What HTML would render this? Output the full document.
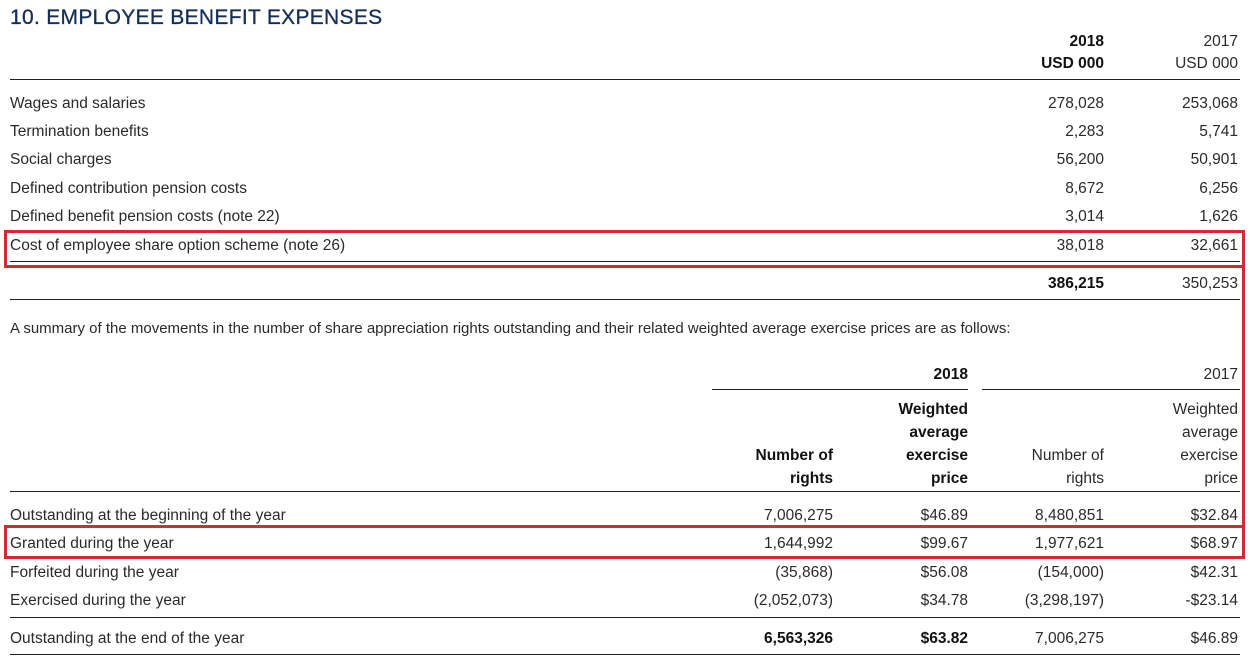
<!DOCTYPE html>
<html><head><meta charset="utf-8"><style>
body{margin:0;width:1250px;height:661px;background:#fff;position:relative;overflow:hidden;font-family:"Liberation Sans",sans-serif;color:#2a2a2a}
.t{position:absolute;font-size:15.5px;line-height:18px;white-space:nowrap}
.r{text-align:right}
.b{font-weight:bold;color:#111}
.ln{position:absolute;height:1px;background:#222}
.red{position:absolute;border:3px solid #d42a32;box-sizing:border-box}
</style></head><body>
<div class="t" style="left:10px;top:6px;font-size:21px;line-height:24px;color:#142e58;letter-spacing:0.3px;-webkit-text-stroke:0.3px #142e58">10. EMPLOYEE BENEFIT EXPENSES</div>
<div class="t r b" style="right:146px;top:33px">2018</div>
<div class="t r b" style="right:146px;top:55px">USD 000</div>
<div class="t r" style="right:12px;top:33px">2017</div>
<div class="t r" style="right:12px;top:55px">USD 000</div>
<div class="ln" style="left:10px;width:1230px;top:79px"></div>
<div class="ln" style="left:10px;width:1230px;top:261px"></div>
<div class="t r b" style="right:146px;top:275px">386,215</div>
<div class="t r" style="right:12px;top:275px">350,253</div>
<div class="ln" style="left:10px;width:1230px;top:299px"></div>
<div class="t" style="left:10px;top:320px;font-size:15px">A summary of the movements in the number of share appreciation rights outstanding and their related weighted average exercise prices are as follows:</div>
<div class="t r b" style="right:282px;top:366px">2018</div>
<div class="t r" style="right:12px;top:366px">2017</div>
<div class="ln" style="left:712px;width:256px;top:389px"></div>
<div class="ln" style="left:982px;width:258px;top:389px"></div>
<div class="t r b" style="right:282px;top:398px;line-height:23px">Weighted<br>average<br>exercise<br>price</div>
<div class="t r" style="right:12px;top:398px;line-height:23px">Weighted<br>average<br>exercise<br>price</div>
<div class="t r b" style="right:417px;top:444px;line-height:23px">Number of<br>rights</div>
<div class="t r" style="right:146px;top:444px;line-height:23px">Number of<br>rights</div>
<div class="ln" style="left:10px;width:1230px;top:491px"></div>
<div class="ln" style="left:10px;width:1230px;top:617px"></div>
<div class="t" style="left:10px;top:630px">Outstanding at the end of the year</div>
<div class="t r b" style="right:417px;top:630px">6,563,326</div>
<div class="t r b" style="right:282px;top:630px">$63.82</div>
<div class="t r" style="right:146px;top:630px">7,006,275</div>
<div class="t r" style="right:12px;top:630px">$46.89</div>
<div class="ln" style="left:10px;width:1230px;top:654px"></div>
<div class="red" style="left:4px;top:230px;width:1241px;height:38px"></div>
<div class="red" style="left:4px;top:525px;width:1241px;height:34px"></div>
<div style="position:absolute;left:1242px;top:266px;width:3px;height:262px;background:#d42a32"></div>
<script>
const labels1=["Wages and salaries","Termination benefits","Social charges","Defined contribution pension costs","Defined benefit pension costs (note 22)","Cost of employee share option scheme (note 26)"];
const v2018=["278,028","2,283","56,200","8,672","3,014","38,018"];
const v2017=["253,068","5,741","50,901","6,256","1,626","32,661"];
const labels2=["Outstanding at the beginning of the year","Granted during the year","Forfeited during the year","Exercised during the year"];
const rights18=["7,006,275","1,644,992","(35,868)","(2,052,073)"];
const price18=["$46.89","$99.67","$56.08","$34.78"];
const rights17=["8,480,851","1,977,621","(154,000)","(3,298,197)"];
const price17=["$32.84","$68.97","$42.31","-$23.14"];
function cell(p,txt,top,style,name){const d=document.createElement('div');d.className='t'+(style?' r':'');d.textContent=txt;d.style.top=top+'px';if(style)d.style.right=style+'px';else d.style.left='10px';


p.appendChild(d);}
const b=document.body;
labels1.forEach((l,i)=>{const y=94.5+i*28.4;cell(b,l,y,0,'expense-label');cell(b,v2018[i],y,146,'expense-2018');cell(b,v2017[i],y,12,'expense-2017');});
labels2.forEach((l,i)=>{const y=506.5+i*28.6;cell(b,l,y,0,'movement-label');cell(b,rights18[i],y,417,'rights-2018');cell(b,price18[i],y,282,'price-2018');cell(b,rights17[i],y,146,'rights-2017');cell(b,price17[i],y,12,'price-2017');});
</script>
</body></html>
